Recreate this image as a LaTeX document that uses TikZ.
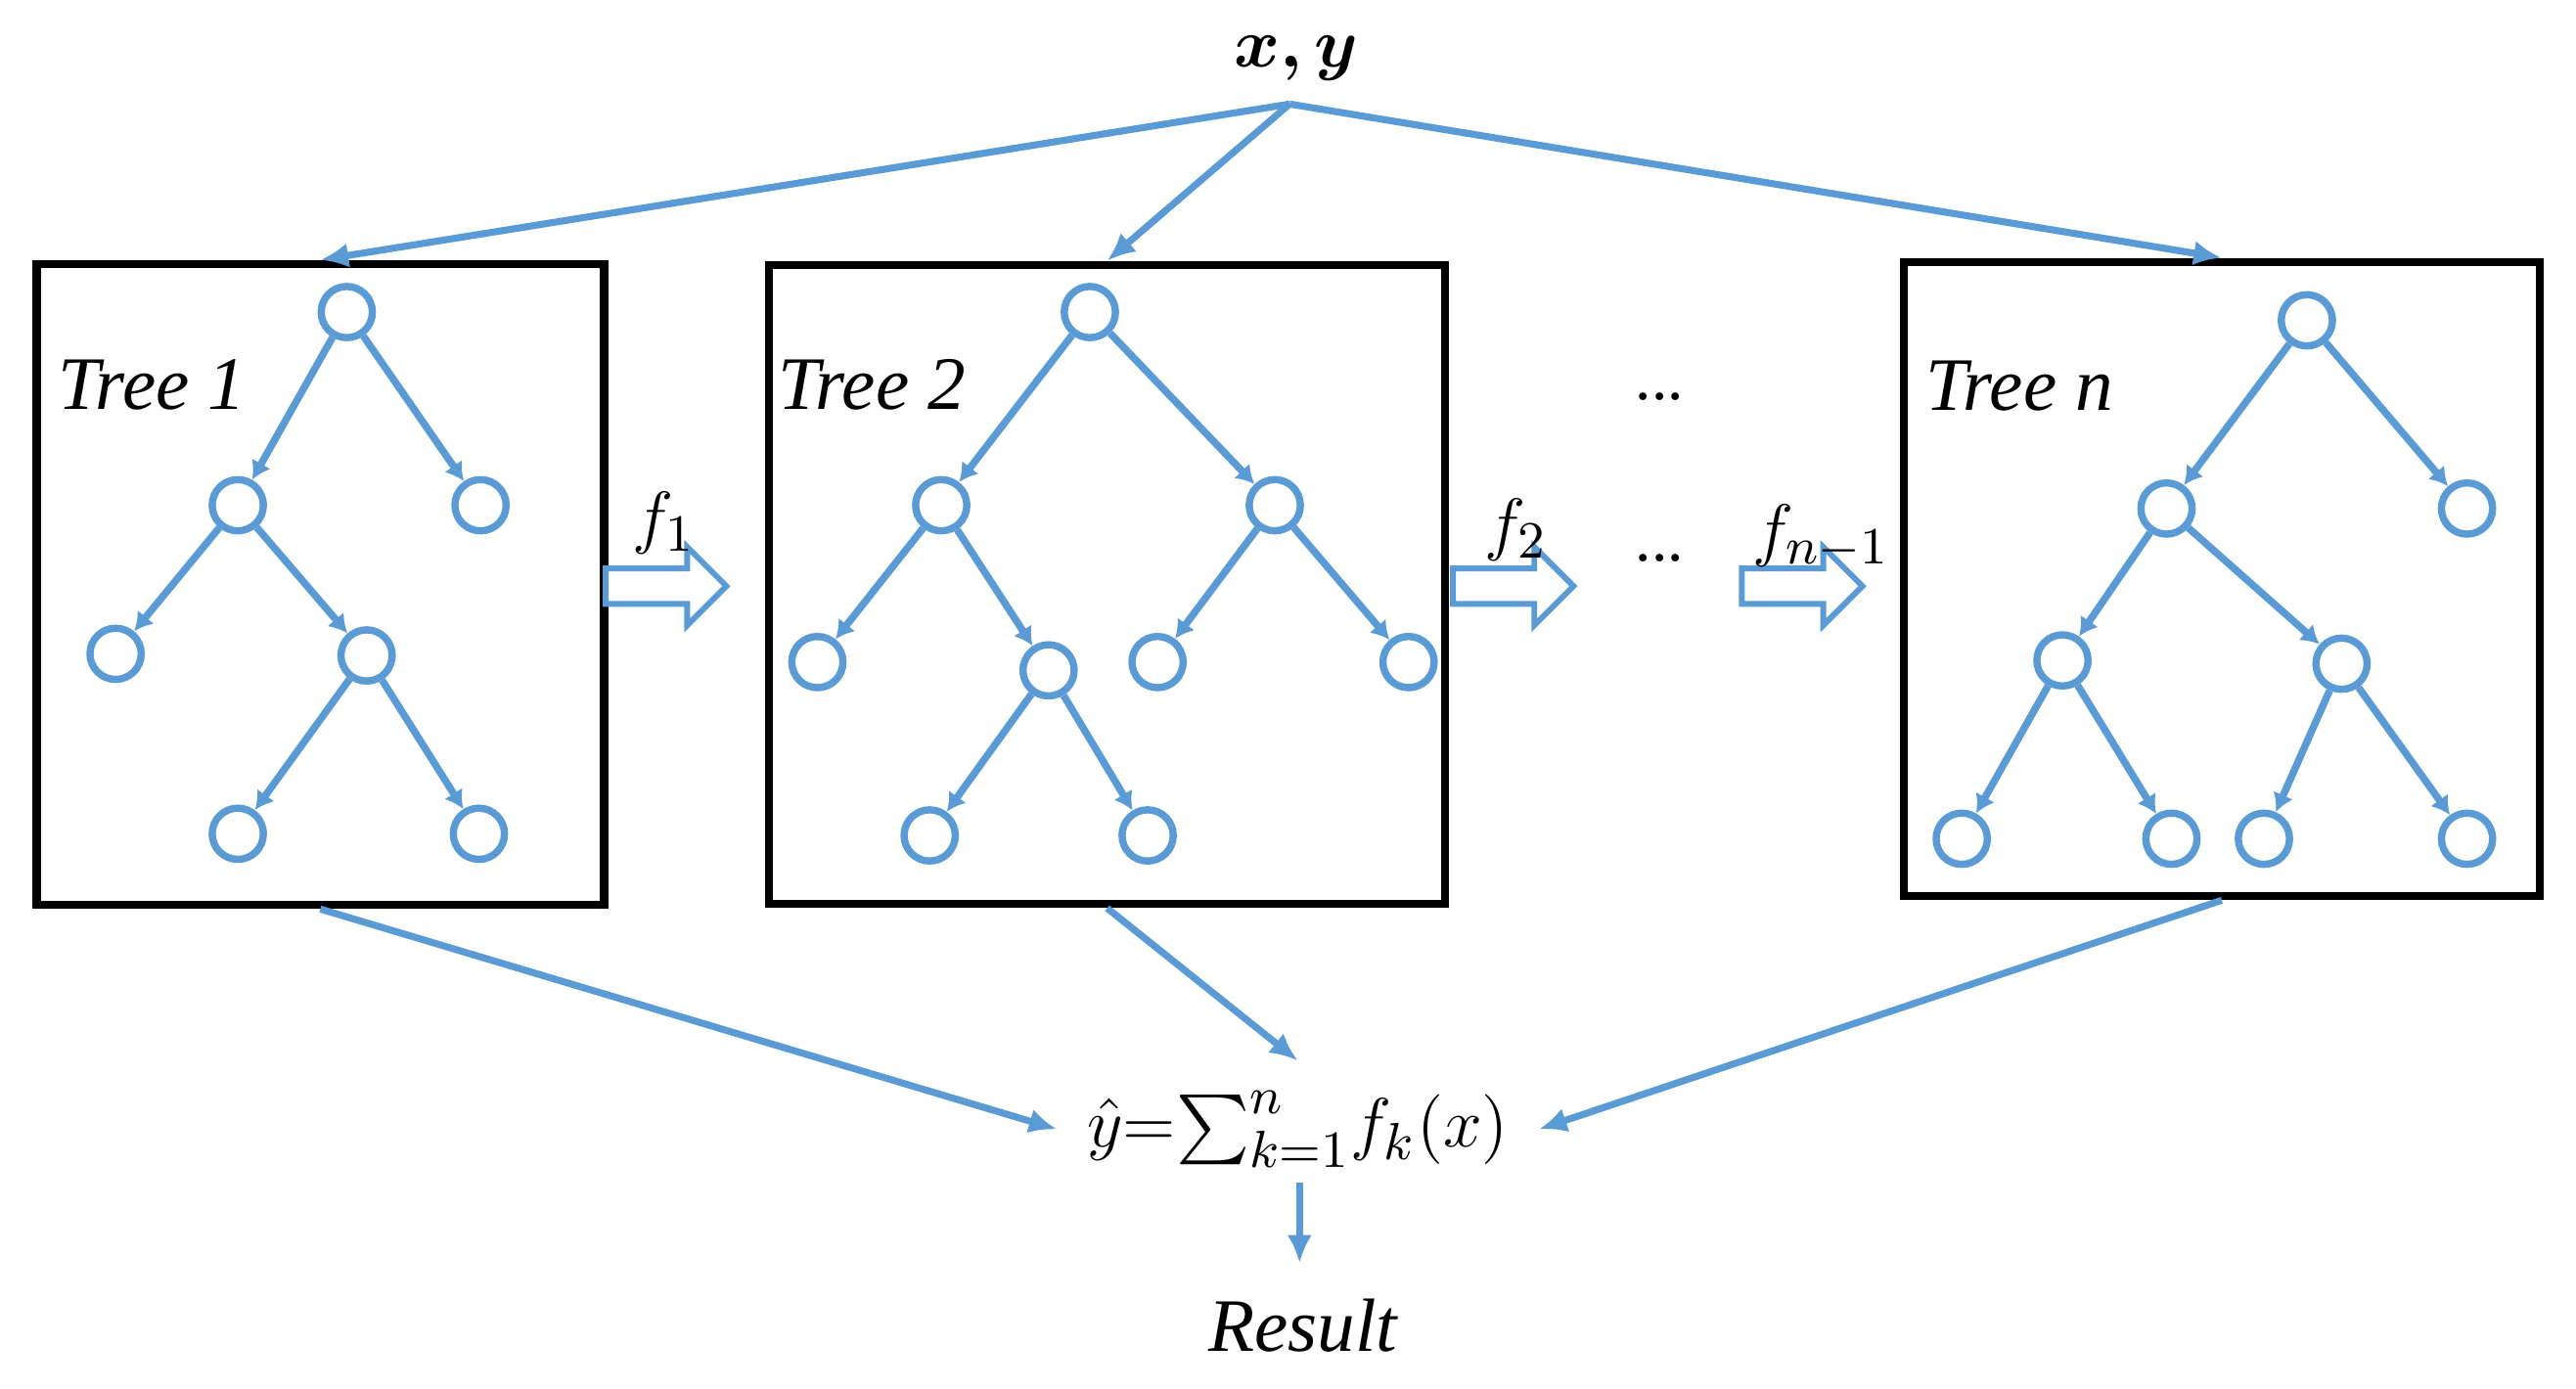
\documentclass[tikz,border=0pt]{standalone}
\usepackage{amsmath}
\usepackage{bm}
\usepackage{fontspec}
\setmainfont{Liberation Serif}
\usepackage{tikz}
\usetikzlibrary{arrows.meta}
\usetikzlibrary{shapes.arrows}
\definecolor{treeblue}{RGB}{91,155,213}
\tikzset{
  leaf/.style={circle,draw=treeblue,line width=1.25pt,minimum size=0.31cm,inner sep=0pt},
  treebox/.style={draw,line width=1.4pt,inner sep=0pt},
  flow/.style={-{Latex[length=0.17cm,width=0.15cm]},draw=treeblue,line width=1.2pt},
  branch/.style={-{Latex[length=0.11cm,width=0.13cm]},draw=treeblue,line width=1.25pt},
  hollow/.style={single arrow,draw=treeblue,fill=white,line width=1pt,
    minimum height=0.73cm,inner xsep=0pt,inner ysep=0.09cm,
    single arrow head extend=0.13cm},
  treename/.style={font=\fontsize{13}{15}\selectfont\itshape}
}
\begin{document}
\begin{tikzpicture}[x=0.01cm,y=-0.01cm,font=\fontsize{13}{15}\selectfont]
    \useasboundingbox (0,0) rectangle (1560,841);
    % input and boxes
    \node (xy) at (785,35) {$\bm{x,y}$};
    \coordinate (src) at (781,63);
    \node[treebox,minimum width=3.435cm,minimum height=3.88cm] (box1) at (194,354) {};
    \node[treebox,minimum width=4.09cm,minimum height=3.87cm] (box2) at (670.5,354) {};
    \node[treebox,minimum width=3.85cm,minimum height=3.84cm] (boxn) at (1345.5,350.7) {};
    \node[treename] (name1) at (92,233) {Tree 1};
    \node[treename] (name2) at (528,233) {Tree 2};
    \node[treename] (namen) at (1223,234) {Tree n};
    % tree 1
    \node[leaf] (t1r) at (210,189) {};
    \node[leaf] (t1a) at (144,306) {};
    \node[leaf] (t1b) at (291,306) {};
    \node[leaf] (t1c) at (70,396) {};
    \node[leaf] (t1d) at (222,397) {};
    \node[leaf] (t1e) at (144,505) {};
    \node[leaf] (t1f) at (290,505) {};
    % tree 2
    \node[leaf] (t2r) at (660,189) {};
    \node[leaf] (t2a) at (570,306) {};
    \node[leaf] (t2b) at (772,306) {};
    \node[leaf] (t2c) at (495,401) {};
    \node[leaf] (t2d) at (635,406) {};
    \node[leaf] (t2e) at (563,506) {};
    \node[leaf] (t2f) at (695,506) {};
    \node[leaf] (t2g) at (701,401) {};
    \node[leaf] (t2h) at (853,401) {};
    % tree n
    \node[leaf] (tnr) at (1397,194) {};
    \node[leaf] (tna) at (1312,308) {};
    \node[leaf] (tnb) at (1494,308) {};
    \node[leaf] (tnc) at (1249,400) {};
    \node[leaf] (tnd) at (1418,402) {};
    \node[leaf] (tne) at (1188,508) {};
    \node[leaf] (tnf) at (1315,508) {};
    \node[leaf] (tng) at (1371,508) {};
    \node[leaf] (tnh) at (1494,508) {};
    % boosting steps
    \node[hollow] (a1) at (398,355) {};
    \node[hollow] (a2) at (911,355) {};
    \node[hollow] (a3) at (1086,355) {};
    \node (f1) at (402,317) {$f_1$};
    \node (f2) at (918,321) {$f_2$};
    \node (fn) at (1103,325) {$f_{n-1}$};
    \node[font=\fontsize{11}{13}\selectfont] (dots1) at (1005,240) {...};
    \node[font=\fontsize{11}{13}\selectfont] (dots2) at (1005,338) {...};
    % output
    \node[inner sep=5pt] (sum) at (786,684)
      {$\hat{y}{=}\!\sum\nolimits_{k=1}^{n}\!f_k(x)$};
    \coordinate (sumbot) at (787,716);
    \node[treename,inner sep=6pt] (res) at (789,803) {Result};
    \path[every edge/.append style={flow}]
          (src) edge (box1.north)
          (src) edge (box2.north)
          (src) edge (boxn.north)
          (box1.south) edge (sum.west)
          (box2.south) edge (sum.north)
          (boxn.south) edge (sum.east)
          (sumbot) edge (sumbot |- res.north);
    \path[every edge/.append style={branch}]
          (t1r) edge (t1a)
          (t1r) edge (t1b)
          (t1a) edge (t1c)
          (t1a) edge (t1d)
          (t1d) edge (t1e)
          (t1d) edge (t1f);
    \path[every edge/.append style={branch}]
          (t2r) edge (t2a)
          (t2r) edge (t2b)
          (t2a) edge (t2c)
          (t2a) edge (t2d)
          (t2d) edge (t2e)
          (t2d) edge (t2f)
          (t2b) edge (t2g)
          (t2b) edge (t2h);
    \path[every edge/.append style={branch}]
          (tnr) edge (tna)
          (tnr) edge (tnb)
          (tna) edge (tnc)
          (tna) edge (tnd)
          (tnc) edge (tne)
          (tnc) edge (tnf)
          (tnd) edge (tng)
          (tnd) edge (tnh);
\end{tikzpicture}
\end{document}
